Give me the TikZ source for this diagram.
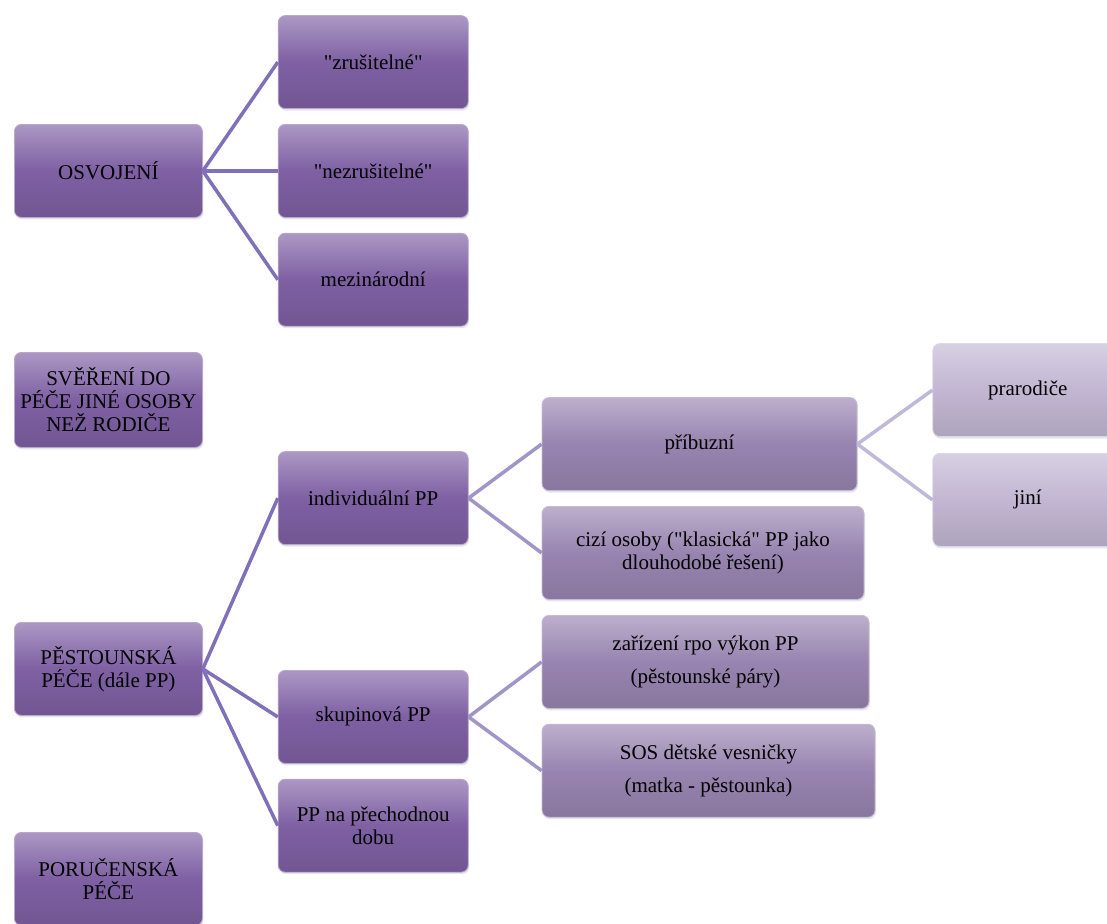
\documentclass[tikz,border=0pt]{standalone}
\usepackage{fontspec}
\setmainfont{Liberation Serif}[Ligatures=TeXOff]
\usetikzlibrary{positioning,shadows}
\definecolor{grape}{RGB}{126,96,163}
\definecolor{lilac}{RGB}{152,132,176}
\definecolor{mauve}{RGB}{194,182,210}
\definecolor{wire}{RGB}{128,112,186}
\definecolor{midwire}{RGB}{160,148,200}
\definecolor{softwire}{RGB}{192,184,216}

\begin{document}
\begin{tikzpicture}[x=1pt,y=-1pt,
    box/.style={draw=#1!55!white,line width=0.8pt,rounded corners=7pt,
        top color=#1!65!white,bottom color=#1!90!black,middle color=#1,
        align=center,font=\fontsize{21}{23}\selectfont,inner sep=2pt,
        minimum width=190pt,minimum height=93pt,
        drop shadow={opacity=0.2,shadow xshift=1pt,shadow yshift=-2pt}},
    box/.default=grape,
    link/.style={draw=wire,line width=3.5pt}]
    \useasboundingbox (0,0) rectangle (1107,923);
    \clip (0,0) rectangle (1107,923);

    % first column
    \node[box,anchor=north west,minimum width=188pt] (osv) at (14,124) {OSVOJENÍ};
    \node[box,anchor=north west,minimum width=188pt,minimum height=95pt] (sver) at (14,352)
        {SVĚŘENÍ DO\\PÉČE JINÉ OSOBY\\NEŽ RODIČE};
    \node[box,anchor=north west,minimum width=188pt] (pest) at (14,622) {PĚSTOUNSKÁ\\PÉČE (dále PP)};
    \node[box,anchor=north west,minimum width=188pt] (poruc) at (14,832) {PORUČENSKÁ\\PÉČE};

    % osvojeni
    \node[box,right=75pt of osv] (nezrus) {"nezrušitelné"};
    \node[box,above=15pt of nezrus] (zrus) {"zrušitelné"};
    \node[box,below=15pt of nezrus] (mezi) {mezinárodní};

    % pestounska pece
    \node[box,right=75pt of pest,yshift=-48pt] (skup) {skupinová PP};
    \node[box,above=125pt of skup] (indiv) {individuální PP};
    \node[box,below=15pt of skup] (prech) {PP na přechodnou\\dobu};

    \node[box=lilac,right=73pt of indiv,yshift=54pt,minimum width=315pt] (pribuz) {příbuzní};
    \node[box=lilac,below=15pt of pribuz.south west,anchor=north west,minimum width=322pt] (cizi)
        {cizí osoby ("klasická" PP jako\\dlouhodobé řešení)};
    \node[box=lilac,right=73pt of skup,yshift=55pt,minimum width=327pt] (zariz)
        {zařízení rpo výkon PP\\[10pt](pěstounské páry)};
    \node[box=lilac,below=15pt of zariz.south west,anchor=north west,minimum width=333pt] (sos)
        {SOS dětské vesničky\\[10pt](matka - pěstounka)};

    \node[box=mauve,right=75pt of pribuz,yshift=54pt] (prarod) {prarodiče};
    \node[box=mauve,below=16pt of prarod] (jini) {jiní};

    % connectors
    \foreach \kid in {zrus,nezrus,mezi} \draw[link] (osv.east) -- (\kid.west);
    \foreach \kid in {indiv,skup,prech} \draw[link] (pest.east) -- (\kid.west);
    \foreach \kid in {pribuz,cizi} \draw[link,draw=midwire] (indiv.east) -- (\kid.west);
    \foreach \kid in {zariz,sos} \draw[link,draw=midwire] (skup.east) -- (\kid.west);
    \foreach \kid in {prarod,jini} \draw[link,draw=softwire] (pribuz.east) -- (\kid.west);
\end{tikzpicture}
\end{document}
